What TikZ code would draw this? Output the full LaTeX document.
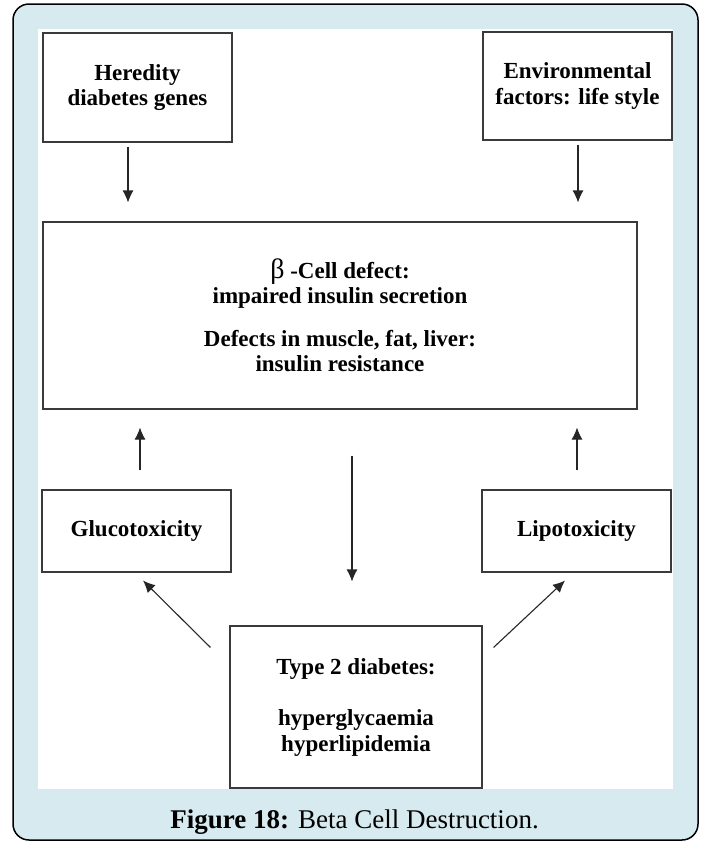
\documentclass[tikz,border=0pt]{standalone}
\usepackage{fontspec}
\setmainfont{Liberation Serif}
\usepackage{tikz}
\usetikzlibrary{arrows.meta}
\tikzset{>={Latex[length=12pt,width=11pt]}}
\usepackage{xcolor}
\definecolor{bg1}{HTML}{D6EAF0}
\definecolor{g1}{HTML}{3A3A3A}
\tikzstyle{box}=[rectangle,draw=g1,line width=1.1pt,align=center,inner sep=0pt,
  font=\fontsize{23}{25.5}\selectfont\bfseries]
\tikzstyle{arr}=[->,draw=black!85,line width=1.1pt]

\begin{document}
\begin{tikzpicture}[x=1pt,y=-1pt]
  \useasboundingbox (0,0) rectangle (703,844);
  \draw[fill=bg1,line width=1.5pt,rounded corners=16pt] (13,4) rectangle (698,840);
  \fill[white] (38,29) rectangle (673,789);

  \node[box,minimum width=189pt,minimum height=109pt] (hered) at (137.5,87.5)
       {Heredity\\diabetes genes};
  \node[box,minimum width=189pt,minimum height=108pt] (envir) at (577.5,86)
       {Environmental\\factors: life style};
  \node[box,minimum width=594pt,minimum height=187pt] (defect) at (340,315.5)
       {{\fontsize{28}{25}\selectfont\mdseries β} -Cell defect:\\impaired insulin secretion\\[17pt]
        Defects in muscle, fat, liver:\\insulin resistance};
  \node[box,minimum width=189pt,minimum height=82pt] (gluco) at (136.5,531) {Glucotoxicity};
  \node[box,minimum width=189pt,minimum height=82pt] (lipo) at (576.5,531) {Lipotoxicity};
  \node[box,minimum width=252pt,minimum height=162pt] (type2) at (356,707)
       {Type 2 diabetes:\\[26pt]hyperglycaemia\\hyperlipidemia};
  \node[anchor=base,font=\fontsize{27}{30}\selectfont] (caption) at (354.5,828)
       {\textbf{Figure 18:} Beta Cell Destruction.};

  % arrows into and out of the defect box
  \draw[arr,shorten <=4pt,shorten >=19pt] ([xshift=-9.5pt]hered.south) -- ([xshift=-9.5pt]hered.south |- defect.north);
  \draw[arr,shorten <=4pt,shorten >=19pt] ([xshift=0.5pt]envir.south) -- ([xshift=0.5pt]envir.south |- defect.north);
  \draw[arr,shorten <=19pt,shorten >=18pt] ([xshift=3.5pt]gluco.north) -- ([xshift=3.5pt]gluco.north |- defect.south);
  \draw[arr,shorten <=19pt,shorten >=18pt] ([xshift=0.5pt]lipo.north) -- ([xshift=0.5pt]lipo.north |- defect.south);
  \draw[arr,shorten <=46pt,shorten >=44pt] ([xshift=12pt]defect.south) -- ([xshift=12pt]defect.south |- type2.north);
  \draw[arr] ([xshift=-19pt,yshift=-22pt]type2.north west) -- ([xshift=6.5pt,yshift=-8pt]gluco.south);
  \draw[arr] ([xshift=11pt,yshift=-22pt]type2.north east) -- ([xshift=-11.5pt,yshift=-8pt]lipo.south);
\end{tikzpicture}
\end{document}
